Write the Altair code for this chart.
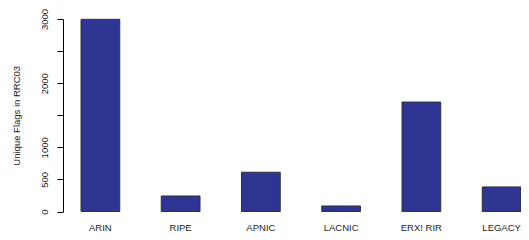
import altair as alt
import pandas as pd

registries = ["ARIN", "RIPE", "APNIC", "LACNIC", "ERX! RIR", "LEGACY"]
flags = [2995, 242, 612, 86, 1706, 383]
y_ticks = [0, 500, 1000, 1500, 2000, 2500, 3000]

df = pd.DataFrame({"registry": registries, "flags": flags})

FONT = "Liberation Sans"

chart = alt.Chart(df).mark_bar(
    color="#2f3592", stroke="#333333", strokeWidth=1
).encode(
    x=alt.X("registry:N", sort=registries,
            scale=alt.Scale(paddingInner=0.517, paddingOuter=0),
            axis=alt.Axis(title=None, labelAngle=0, domain=False, ticks=False,
                          labelPadding=11, labelFontSize=9.5, labelFont=FONT,
                          labelColor="#222222")),
    y=alt.Y("flags:Q", scale=alt.Scale(domain=[0, 3000], nice=False),
            axis=alt.Axis(title="Unique Flags in RRC03", values=y_ticks,
                          labelExpr="datum.value == 1500 || datum.value == 2500 ? '' : datum.label",
                          format="d", offset=18, grid=False,
                          domainColor="#000000", tickColor="#000000", tickSize=6,
                          labelAngle=270, labelAlign="center", labelBaseline="bottom",
                          labelPadding=8, labelFontSize=9.5, labelFont=FONT,
                          labelColor="#222222",
                          titleFont=FONT, titleFontSize=9.5, titleFontWeight="normal",
                          titleColor="#222222", titlePadding=18)),
).properties(
    width=440, height=192.5,
    autosize=alt.AutoSizeParams(type="none"),
    padding={"left": 73, "top": 11, "right": 0, "bottom": 20},
).configure_view(stroke=None)

chart.save("out.html", embed_options={"renderer": "svg", "actions": False})
